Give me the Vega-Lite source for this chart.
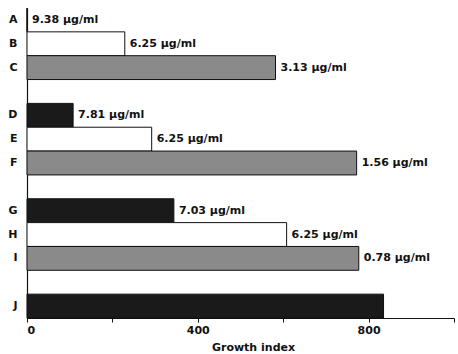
{
  "$schema": "https://vega.github.io/schema/vega-lite/v6.json",
  "autosize": "none",
  "width": 427,
  "height": 310,
  "padding": {"left": 27, "top": 8, "right": 4, "bottom": 36},
  "background": "white",
  "config": {"view": {"stroke": null}, "font": "DejaVu Sans"},
  "data": {"values": [
    {"row": "A", "value": 0, "kind": "black", "label": "9.38 µg/ml"},
    {"row": "B", "value": 229, "kind": "white", "label": "6.25 µg/ml"},
    {"row": "C", "value": 582, "kind": "gray", "label": "3.13 µg/ml"},
    {"row": "D", "value": 108, "kind": "black", "label": "7.81 µg/ml"},
    {"row": "E", "value": 292, "kind": "white", "label": "6.25 µg/ml"},
    {"row": "F", "value": 772, "kind": "gray", "label": "1.56 µg/ml"},
    {"row": "G", "value": 344, "kind": "black", "label": "7.03 µg/ml"},
    {"row": "H", "value": 608, "kind": "white", "label": "6.25 µg/ml"},
    {"row": "I", "value": 777, "kind": "gray", "label": "0.78 µg/ml"},
    {"row": "J", "value": 835, "kind": "black", "label": ""}
  ]},
  "encoding": {
    "y": {
      "field": "row", "type": "nominal",
      "scale": {"domain": ["A","B","C","g1","D","E","F","g2","G","H","I","g3","J"], "paddingInner": 0, "paddingOuter": 0},
      "axis": {"title": null, "ticks": false, "labelPadding": 10, "labelFont": "DejaVu Sans", "labelFontWeight": "bold", "labelFontSize": 11, "labelColor": "#111",
               "labelExpr": "length(datum.label) > 1 ? '' : datum.label", "domainColor": "#111", "domainWidth": 1.2, "grid": false}
    },
    "x": {
      "field": "value", "type": "quantitative",
      "scale": {"domain": [0, 1000], "nice": false},
      "axis": {"title": "Growth index", "values": [0, 200, 400, 600, 800, 1000], "labelExpr": "datum.value % 400 == 0 && datum.value < 1000 ? datum.label : ''",
               "grid": false, "tickSize": 4, "tickColor": "#111", "domainColor": "#111", "domainWidth": 1.2, "labelPadding": 2,
               "labelFont": "DejaVu Sans", "labelFontWeight": "bold", "labelFontSize": 11, "labelColor": "#111",
               "titleFont": "DejaVu Sans", "titleFontWeight": "bold", "titleFontSize": 11, "titleColor": "#111", "titleX": 226, "titlePadding": 6}
    }
  },
  "layer": [
    {
      "mark": {"type": "bar", "stroke": "#111", "strokeWidth": 1},
      "encoding": {
        "color": {"field": "kind", "type": "nominal", "legend": null,
                  "scale": {"domain": ["black", "white", "gray"], "range": ["#1a1a1a", "#ffffff", "#8a8a8a"]}}
      }
    },
    {
      "mark": {"type": "text", "align": "left", "baseline": "middle", "dx": 5, "font": "DejaVu Sans", "fontWeight": "bold", "fontSize": 11, "color": "#111"},
      "encoding": {"text": {"field": "label"}}
    }
  ]
}
